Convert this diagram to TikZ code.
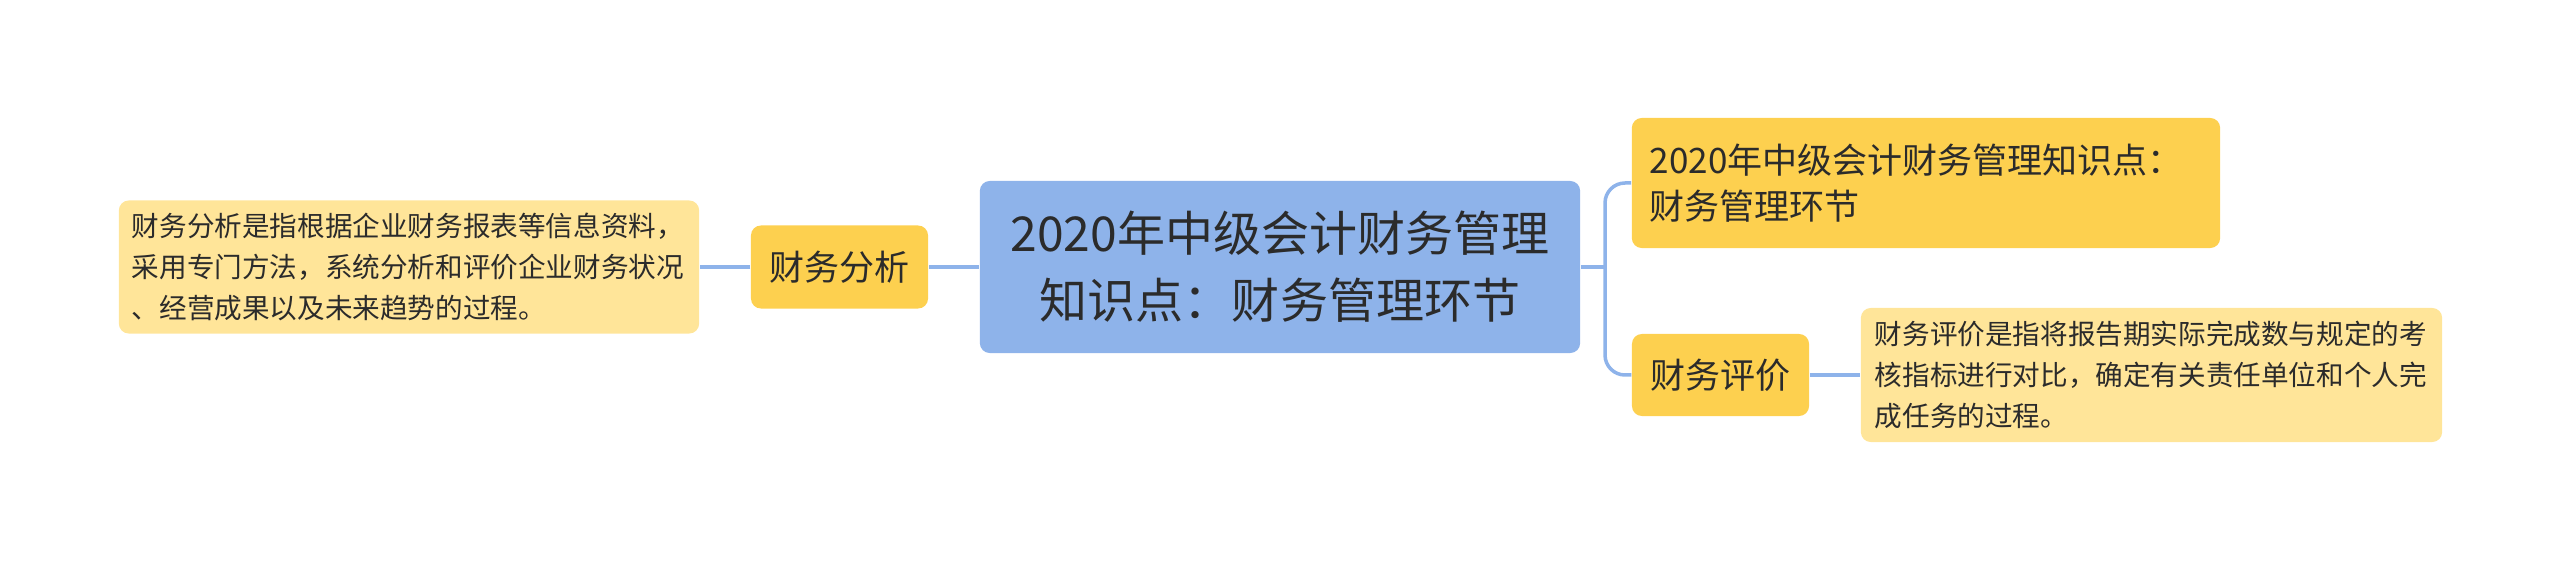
\documentclass[tikz,border=0pt]{standalone}
\usepackage{fontspec}
\setmainfont{Noto Sans CJK SC}
\usepackage{xcolor}
\usepackage{tikz}
\definecolor{rootblue}{HTML}{8EB3EA}
\definecolor{branchyellow}{HTML}{FDD04F}
\definecolor{leafyellow}{HTML}{FFE599}
\definecolor{linkblue}{HTML}{8EB3EA}
\definecolor{inkgray}{HTML}{2B2B2B}

\begin{document}
\begin{tikzpicture}[x=0.01cm,y=-0.01cm,
  box/.style={rectangle, rounded corners=0.1cm, inner ysep=0pt, text=inkgray},
  rootbox/.style={box, fill=rootblue, align=center, text width=5.6cm, inner xsep=0.2cm,
    minimum height=1.72cm, font=\fontsize{13.66pt}{19.06pt}\selectfont},
  branchbox/.style={box, fill=branchyellow, inner xsep=0.18cm,
    font=\fontsize{9.96pt}{13.09pt}\selectfont},
  leafbox/.style={box, fill=leafyellow, align=left,
    font=\fontsize{7.85pt}{11.66pt}\selectfont},
  link/.style={draw=linkblue, line width=0.035cm}]

\useasboundingbox (0,0) rectangle (2560,561);

% centre
\node[rootbox] (root) at (1280,267) {2020年中级会计财务管理\\知识点：财务管理环节};

% left side
\node[branchbox, align=center, text width=1.41cm, minimum height=0.83cm] (fenxi) at (839.5,267) {财务分析};
\node[leafbox, text width=5.54cm, inner xsep=0.13cm, minimum height=1.33cm] (fenxileaf) at (409,267)
  {财务分析是指根据企业财务报表等信息资料，\\采用专门方法，系统分析和评价企业财务状况\\、经营成果以及未来趋势的过程。};

% right side
\node[branchbox, align=left, text width=5.52cm, minimum height=1.30cm] (huanjie) at (1926,183)
  {2020年中级会计财务管理知识点：\\财务管理环节};
\node[branchbox, align=center, text width=1.41cm, minimum height=0.82cm] (pingjia) at (1720.5,375) {财务评价};
\node[leafbox, text width=5.53cm, inner xsep=0.14cm, minimum height=1.34cm] (pingjialeaf) at (2151.5,375)
  {财务评价是指将报告期实际完成数与规定的考\\核指标进行对比，确定有关责任单位和个人完\\成任务的过程。};

% links
\coordinate (fork) at (1605,267);
\draw[link] (root.west) -- (fenxi.east);
\draw[link] (fenxi.west) -- (fenxileaf.east);
\draw[link] (root.east) -- (fork);
\draw[link, rounded corners=0.2cm] (fork) |- (huanjie.west);
\draw[link, rounded corners=0.2cm] (fork) |- (pingjia.west);
\draw[link] (pingjia.east) -- (pingjialeaf.west);
\end{tikzpicture}
\end{document}
